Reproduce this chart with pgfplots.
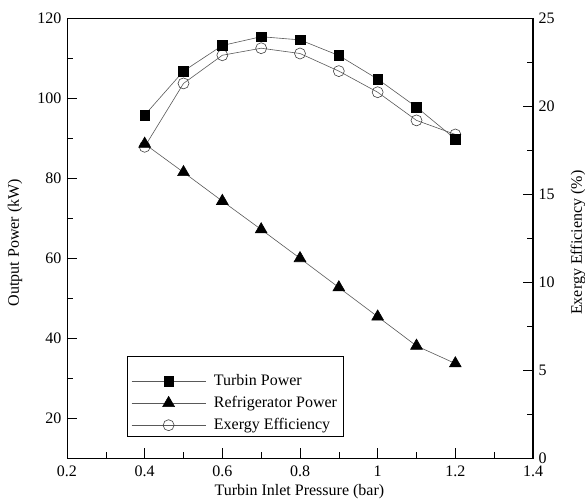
\documentclass[border=0pt]{standalone}
\usepackage{fontspec}
\setmainfont{Liberation Serif}
\usepackage{pgfplots}
\pgfplotsset{compat=1.18}
\begin{document}
\fontsize{16}{19}\selectfont
\begin{tikzpicture}[font=\fontsize{16}{19}\selectfont]
\pgfplotsset{
  every axis/.append style={
    scale only axis, width=466pt, height=440pt,
    xmin=0.2, xmax=1.4,
    /pgf/number format/assume math mode=true,
    tick align=inside,
    tick style={black, line width=0.6pt},
    major tick length=10pt, minor tick length=6pt,
  },
}
% right axis: exergy efficiency
\begin{axis}[
  axis x line=none, axis y line*=right,
  ymin=0, ymax=25, ytick={0,5,10,15,20,25}, minor y tick num=1,
  y axis line style={line width=1.8pt},
  ylabel={Exergy Efficiency (\%)},
  ylabel style={at={(axis description cs:1.0966,0.49)}, anchor=center, inner sep=0pt},
]
\addplot[color=black!65, line width=0.6pt, mark=o, mark size=5.5pt,
  mark options={fill=white, draw=black!75, line width=0.6pt}] coordinates {
  (0.4,17.7) (0.5,21.3) (0.6,22.9) (0.7,23.3) (0.8,23.0)
  (0.9,22.0) (1.0,20.8) (1.1,19.2) (1.2,18.4)
};
\end{axis}
% left axis: powers
\begin{axis}[
  axis line style={line width=0.8pt},
  ymin=10, ymax=120, ytick={20,40,60,80,100,120}, minor y tick num=1,
  xtick={0.2,0.4,0.6,0.8,1.0,1.2,1.4}, minor x tick num=1,
  xtick pos=bottom, ytick pos=left,
  xticklabel style={yshift=-2.5pt},
  xlabel={Turbin Inlet Pressure (bar)},
  xlabel style={at={(axis description cs:0.4987,-0.0766)}, anchor=center, inner sep=0pt},
  ylabel={Output Power (kW)},
  ylabel style={at={(axis description cs:-0.1116,0.49)}, anchor=center, inner sep=0pt},
  legend style={at={(0.1288,0.0484)}, anchor=south west, draw=black, fill=white,
    line width=0.6pt, inner xsep=4pt, inner ysep=3.5pt, row sep=6pt,
    nodes={inner ysep=0pt, text height=12pt, text depth=4pt},
    cells={anchor=west}, column sep=6pt},
  legend image code/.code={%
    \draw[mark repeat=2, mark phase=2] plot coordinates {(0pt,0pt) (37pt,0pt) (74pt,0pt)};},
]
\coordinate (bl) at (rel axis cs:0,0);
\coordinate (tr) at (rel axis cs:1,1);
\addlegendimage{empty legend}
\addlegendentry[text height=7pt, text depth=0pt]{}
\addplot[color=black!65, line width=0.6pt, mark=square*, mark size=4.8pt,
  mark options={fill=black, draw=black}] coordinates {
  (0.4,95.8) (0.5,106.8) (0.6,113.2) (0.7,115.4) (0.8,114.6)
  (0.9,110.7) (1.0,104.8) (1.1,97.8) (1.2,89.8)
};
\addlegendentry{Turbin Power}
\addplot[color=black!65, line width=0.6pt, mark=triangle*, mark size=6.8pt,
  mark options={fill=black, draw=black}] coordinates {
  (0.4,88.6) (0.5,81.5) (0.6,74.3) (0.7,67.2) (0.8,60.0)
  (0.9,52.7) (1.0,45.4) (1.1,38.1) (1.2,33.7)
};
\addlegendentry{Refrigerator Power}
\addlegendimage{color=black!65, line width=0.6pt, mark=o, mark size=5.5pt,
  mark options={fill=white, draw=black!75, line width=0.6pt}}
\addlegendentry{Exergy Efficiency}
\end{axis}
\path (bl) ++(-67pt,-42.7pt) coordinate (BL);
\path (tr) ++(52pt,18.3pt) coordinate (TR);
\pgfresetboundingbox
\useasboundingbox (BL) rectangle (TR);
\end{tikzpicture}
\end{document}
